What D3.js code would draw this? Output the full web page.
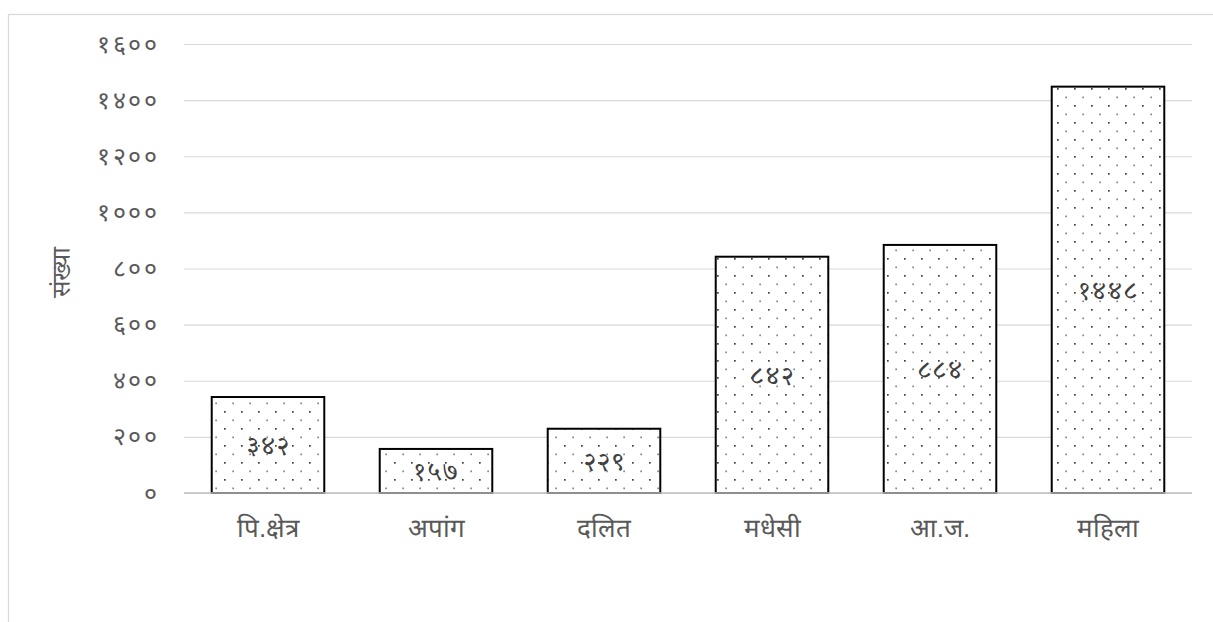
<!DOCTYPE html>
<html><head><meta charset="utf-8">
<script src="https://cdn.jsdelivr.net/npm/d3@7"></script>
<style>
html,body{margin:0;padding:0;background:#fff;}
svg{display:block;font-family:"Noto Serif Devanagari","Noto Sans Devanagari","Noto Sans",sans-serif;}
</style></head><body>
<svg id="c" width="1213" height="622"></svg>
<script>
const categories = ["पि.क्षेत्र","अपांग","दलित","मधेसी","आ.ज.","महिला"];
const values = [342,157,229,842,884,1448];
const valueLabels = ["३४२","१५७","२२९","८४२","८८४","१४४८"];
const tickValues = [0,200,400,600,800,1000,1200,1400,1600];
const tickLabels = ["०","२००","४००","६००","८००","१०००","१२००","१४००","१६००"];
const yTitle = "संख्या";

const svg = d3.select("#c");
const W=1213,H=622;
const m={left:184,right:21,top:44,bottom:129};

// outer frame
svg.append("rect").attr("x",8.5).attr("y",14.5).attr("width",1300).attr("height",800)
  .attr("fill","none").attr("stroke","#d9d9d9").attr("stroke-width",1.3);

// pattern
const defs=svg.append("defs");
const pat=defs.append("pattern").attr("id","dots").attr("patternUnits","userSpaceOnUse")
  .attr("width",17).attr("height",17);
pat.append("rect").attr("width",17).attr("height",17).attr("fill","#fff");
pat.append("rect").attr("x",3).attr("y",3).attr("width",1.7).attr("height",1.7).attr("fill","#404040");
pat.append("rect").attr("x",11.5).attr("y",11.5).attr("width",1.2).attr("height",1.7).attr("fill","#555");

const x=d3.scaleBand().domain(categories).range([m.left,W-m.right]).paddingInner(0.33).paddingOuter(0.165);
const y=d3.scaleLinear().domain([0,1600]).range([H-m.bottom,m.top]);

// gridlines
const yAxis=d3.axisLeft(y).tickValues(tickValues).tickFormat((d,i)=>tickLabels[i]).tickSize(-(W-m.left-m.right)).tickPadding(25);
const ga=svg.append("g").attr("transform",`translate(${m.left},0)`).call(yAxis);
ga.select(".domain").remove();
ga.selectAll(".tick line").attr("stroke","#d9d9d9").attr("stroke-width",1.2);
ga.selectAll(".tick text").attr("fill","#595959").attr("font-size",25).attr("letter-spacing",2.5);

// bars
svg.append("g").selectAll("rect").data(values).join("rect")
  .attr("x",(d,i)=>x(categories[i])).attr("width",x.bandwidth())
  .attr("y",d=>y(d)).attr("height",d=>y(0)-y(d))
  .attr("fill","url(#dots)").attr("stroke","#000").attr("stroke-width",2);

// baseline
svg.append("line").attr("x1",m.left).attr("x2",W-m.right).attr("y1",y(0)).attr("y2",y(0))
  .attr("stroke","#bfbfbf").attr("stroke-width",1.3);

// value labels
svg.append("g").selectAll("text").data(values).join("text")
  .attr("x",(d,i)=>x(categories[i])+x.bandwidth()/2+1)
  .attr("y",d=>(y(d)+y(0))/2).attr("dy","0.35em")
  .attr("text-anchor","middle").attr("fill","#404040").attr("font-size",26).attr("letter-spacing",2)
  .text((d,i)=>valueLabels[i]);

// x labels
const xAxis=d3.axisBottom(x).tickSize(0).tickPadding(26);
const gx=svg.append("g").attr("transform",`translate(0,${y(0)})`).call(xAxis);
gx.select(".domain").remove();
gx.selectAll(".tick text").attr("fill","#595959").attr("font-size",26);

// y title
svg.append("text").attr("transform",`translate(70,${(y(0)+y(1600))/2 + 4}) rotate(-90)`)
  .attr("text-anchor","middle").attr("fill","#595959").attr("font-size",26).text(yTitle);
</script></body></html>
